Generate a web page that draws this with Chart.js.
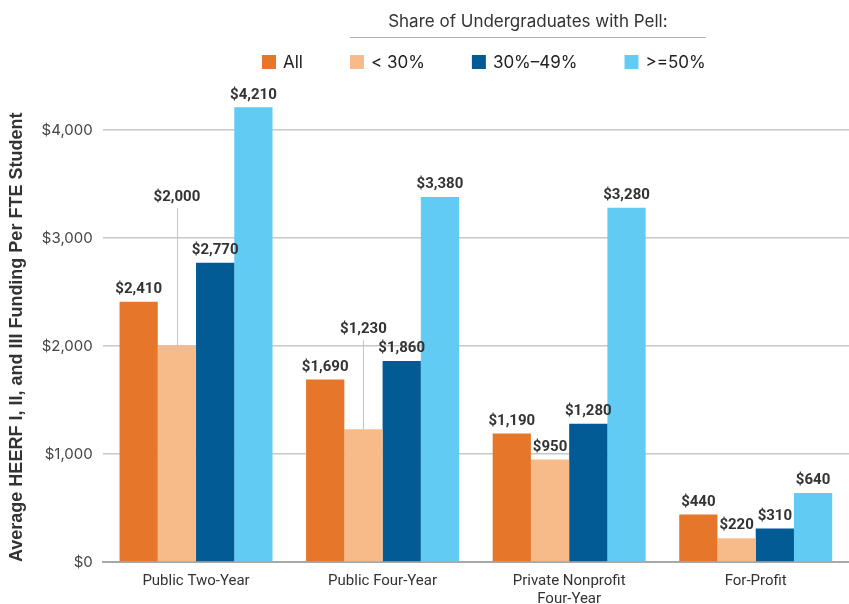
<!DOCTYPE html>
<html>
<head>
<meta charset="utf-8">
<script src="https://cdn.jsdelivr.net/npm/chart.js@4.4.0/dist/chart.umd.min.js"></script>
<style>
  html, body { margin: 0; padding: 0; background: #fff; }
  #wrap { width: 849px; height: 604px; }
</style>
</head>
<body>
<div id="wrap"><canvas id="heerf"></canvas></div>
<script>
// sectors and average HEERF funding per FTE student, by Pell share
const sectors = ['Public Two-Year', 'Public Four-Year', ['Private Nonprofit', 'Four-Year'], 'For-Profit'];
const allInst = [2410, 1690, 1190, 440];
const pellUnder30 = [2000, 1230, 950, 220];
const pell30to49 = [2770, 1860, 1280, 310];
const pell50plus = [4210, 3380, 3280, 640];
const yTicks = [0, 1000, 2000, 3000, 4000];
const seriesNames = ['All', '< 30%', '30%\u201349%', '>=50%'];

// a couple of labels sit higher with a thin leader line down to the bar
const raisedLabels = { 1: { 0: 136, 1: 87 } };

const money = v => '$' + v.toLocaleString('en-US');

const barLabels = {
  id: 'barLabels',
  afterDatasetsDraw(chart) {
    const ctx = chart.ctx;
    ctx.save();
    ctx.font = 'bold 15px Roboto';
    ctx.fillStyle = '#333';
    ctx.textAlign = 'center';
    ctx.textBaseline = 'bottom';
    chart.data.datasets.forEach((ds, i) => {
      chart.getDatasetMeta(i).data.forEach((bar, j) => {
        const lift = (raisedLabels[i] || {})[j] || 0;
        if (lift) {
          ctx.strokeStyle = '#c4c4c4';
          ctx.lineWidth = 1;
          ctx.beginPath();
          ctx.moveTo(Math.round(bar.x) + 0.5, bar.y);
          ctx.lineTo(Math.round(bar.x) + 0.5, bar.y - lift - 2);
          ctx.stroke();
        }
        ctx.fillText(money(ds.data[j]), bar.x, bar.y - 5 - lift);
      });
    });
    ctx.restore();
  }
};

// legend with a heading over the Pell groups
const pellLegend = {
  id: 'pellLegend',
  afterDraw(chart) {
    const ctx = chart.ctx;
    const area = chart.chartArea;
    const box = 14, gap = 7, spacing = 47;
    ctx.save();
    ctx.font = '17px Inter';
    const items = chart.data.datasets.map(ds => ({
      label: ds.label, color: ds.backgroundColor, w: ctx.measureText(ds.label).width
    }));
    let total = items.reduce((s, it) => s + box + gap + it.w, 0) + spacing * (items.length - 1);
    let x = (area.left + area.right) / 2 - total / 2 + 8;
    const y = 62;
    items.forEach(it => {
      it.x = x;
      ctx.fillStyle = it.color;
      ctx.fillRect(x, y - box / 2, box, box);
      ctx.fillStyle = '#222';
      ctx.textAlign = 'left';
      ctx.textBaseline = 'middle';
      ctx.fillText(it.label, x + box + gap, y + 1);
      it.end = x + box + gap + it.w;
      x = it.end + spacing;
    });
    const l = items[1].x, r = items[items.length - 1].end;
    ctx.strokeStyle = '#b0b0b0';
    ctx.lineWidth = 1;
    ctx.beginPath();
    ctx.moveTo(l, 37.5);
    ctx.lineTo(r, 37.5);
    ctx.stroke();
    ctx.fillStyle = '#333';
    ctx.textAlign = 'center';
    ctx.fillText('Share of Undergraduates with Pell:', (l + r) / 2, 22);
    ctx.restore();
  }
};

const canvas = document.getElementById('heerf');
new Chart(canvas, {
  type: 'bar',
  data: {
    labels: sectors,
    datasets: [
      { label: seriesNames[0], data: allInst, backgroundColor: '#e5762a' },
      { label: seriesNames[1], data: pellUnder30, backgroundColor: '#f6bb88' },
      { label: seriesNames[2], data: pell30to49, backgroundColor: '#025b95' },
      { label: seriesNames[3], data: pell50plus, backgroundColor: '#61cbf3' }
    ]
  },
  options: {
    responsive: true,
    maintainAspectRatio: false,
    animation: false,
    layout: { padding: { top: 76, right: 0, left: 6, bottom: -6 } },
    datasets: { bar: { categoryPercentage: 0.82, barPercentage: 1, borderWidth: 0 } },
    plugins: {
      legend: { display: false },
      tooltip: { enabled: false }
    },
    scales: {
      x: {
        grid: { display: false },
        border: { color: '#a8a8a8', width: 2 },
        ticks: { font: { family: 'Roboto', size: 15 }, color: '#333', padding: 2 }
      },
      y: {
        min: 0,
        max: 4500,
        afterBuildTicks: s => { s.ticks = yTicks.map(v => ({ value: v })); },
        grid: { color: '#c8c8c8', lineWidth: 1.5, drawTicks: false },
        border: { display: false },
        ticks: { font: { family: 'Inter', size: 15 }, color: '#444', padding: 10, callback: v => money(v) },
        title: {
          display: true,
          align: 'start',
          text: 'Average HEERF I, II, and III Funding Per FTE Student',
          font: { family: 'Liberation Sans', size: 18, weight: 'bold' },
          color: '#333',
          padding: { top: 0, bottom: 4 }
        }
      }
    }
  },
  plugins: [barLabels, pellLegend]
});
</script>
</body>
</html>
